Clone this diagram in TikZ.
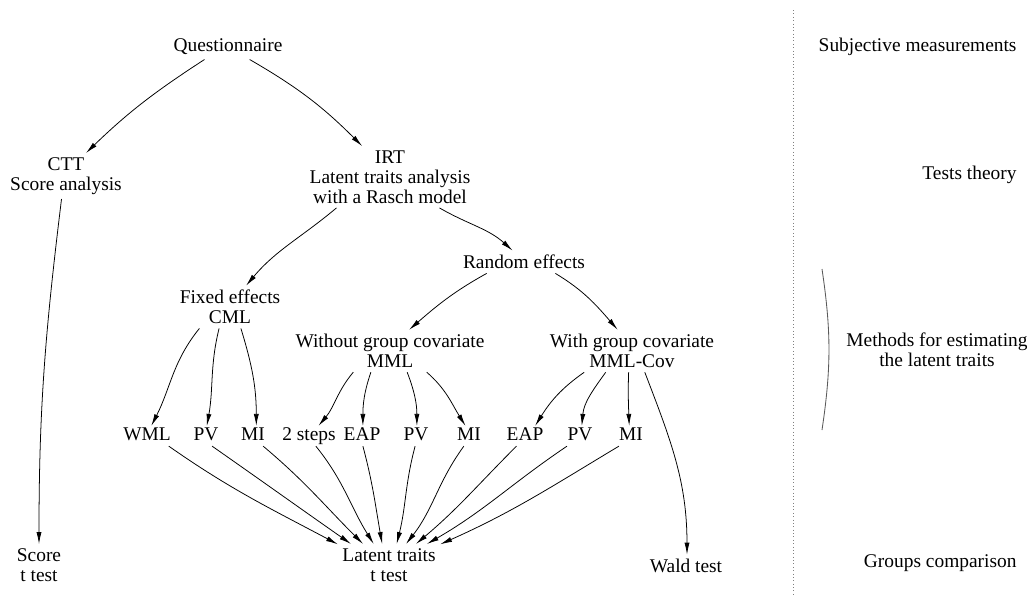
\documentclass[tikz,border=0pt]{standalone}
\usepackage{fontspec}
\setmainfont{Liberation Serif}
\usetikzlibrary{arrows.meta}

\begin{document}
\begin{tikzpicture}[x=0.025cm,y=0.025cm,>={Latex[length=8.5pt,width=3.6pt]},
        every node/.style={font=\fontsize{13.8}{14.2}\selectfont,align=center,inner sep=3pt},
        leaf/.style={text height=1.5ex,text depth=.25ex},
        level/.style={anchor=east},
        link/.style={->,line width=0.55pt}]
        \useasboundingbox (0,0) rectangle (1027,-595);

        % draw the tree of methods
        \node (quest) at (228,-47) {Questionnaire};
        \node (ctt) at (66,-176) {CTT\\Score analysis};
        \node (irt) at (390,-177) {IRT\\Latent traits analysis\\with a Rasch model};
        \node (random) at (524,-262) {Random effects};
        \node (fixed) at (230,-307) {Fixed effects\\CML};
        \node (mml) at (390,-351) {Without group covariate\\MML};
        \node (mmlcov) at (632,-351) {With group covariate\\MML-Cov};

        \node[leaf] (wml) at (147,-436) {WML};
        \node[leaf] (pva) at (206,-436) {PV};
        \node[leaf] (mia) at (253,-436) {MI};
        \node[leaf] (steps) at (309,-436) {2 steps};
        \node[leaf] (eapa) at (362,-436) {EAP};
        \node[leaf] (pvb) at (416,-436) {PV};
        \node[leaf] (mib) at (469,-436) {MI};
        \node[leaf] (eapb) at (525,-436) {EAP};
        \node[leaf] (pvc) at (580,-436) {PV};
        \node[leaf] (mic) at (631,-436) {MI};

        \node (score) at (39,-565) {Score\\t test};
        \node (latent) at (389,-565) {Latent traits\\t test};
        \node (wald) at (686,-566) {Wald test};

        % draw the levels on the right
        \node[level] (subj) at (1021,-47) {Subjective measurements};
        \node[level] (theory) at (1021,-175) {Tests theory};
        \node (methods) at (937,-350) {Methods for estimating\\the latent traits};
        \node[level] (groups) at (1021,-563) {Groups comparison};

        \draw[gray,dotted] (793,-10) -- (793,-595);
        \draw[gray!70!black,line width=0.6pt] (822,-269) to[bend left=8.5] (822,-430);

        % draw the arrows
        \draw[link] (quest.-152) to[out=-147,in=44] (ctt.49);
        \draw[link] (quest.-30) to[out=-30,in=135] (irt.132);
        \draw[link] (irt.-150) to[out=-140,in=50] (fixed.53);
        \draw[link] (irt.-32) to[out=-30,in=138] (random.135);
        \draw[link] (random.-163) to[out=-151,in=41] (mml.48);
        \draw[link] (random.-20) to[out=-31,in=131] (mmlcov.124);
        \draw[link] (ctt.-101) to[out=-97,in=90] (score.90);

        \draw[link] (fixed.-145) to[out=-129,in=63] (wml.67);
        \draw[link] (fixed.-117) to[out=-104,in=80] (pva.85);
        \draw[link] (fixed.-63) to[out=-73,in=90] (mia.72);

        \draw[link] (mml.-150) to[out=-130,in=50] (steps.47);
        \draw[link] (mml.-132) to[out=-109,in=90] (eapa.85);
        \draw[link] (mml.-51) to[out=-69,in=90] (pvb.85);
        \draw[link] (mml.-30) to[out=-41,in=122] (mib.109);

        \draw[link] (mmlcov.-156) to[out=-145,in=58] (eapb.45);
        \draw[link] (mmlcov.-141) to[out=-126,in=85] (pvc.80);
        \draw[link] (mmlcov.-99) to[out=-92,in=92] (mic.100);
        \draw[link] (mmlcov.-59) to[out=-69,in=90] (wald.85);

        \draw[link] (wml.-25) to[out=-35,in=152] (latent.158);
        \draw[link] (pva.-59) to[out=-35,in=145] (latent.151);
        \draw[link] (mia.-45) to[out=-40,in=135] (latent.141);
        \draw[link] (steps.-56) to[out=-51,in=122] (latent.126);
        \draw[link] (eapa.-85) to[out=-75,in=100] (latent.108);
        \draw[link] (pvb.-95) to[out=-105,in=76] (latent.70);
        \draw[link] (mib.-117) to[out=-126,in=52] (latent.51);
        \draw[link] (eapb.-130) to[out=-135,in=40] (latent.38);
        \draw[link] (pvc.-142) to[out=-146,in=30] (latent.29);
        \draw[link] (mic.-140) to[out=-149,in=24] (latent.22);
\end{tikzpicture}
\end{document}
